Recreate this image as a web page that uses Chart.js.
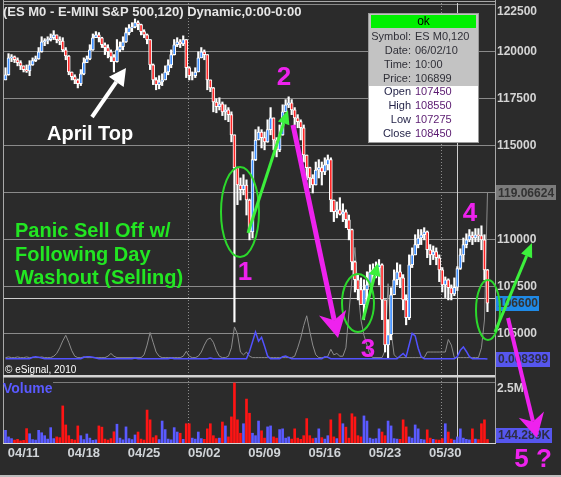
<!DOCTYPE html>
<html>
<head>
<meta charset="utf-8">
<script src="https://cdn.jsdelivr.net/npm/chart.js@4.4.0/dist/chart.umd.min.js"></script>
<style>
html, body { margin: 0; padding: 0; background: #2b2b2b; }
#wrap { position: relative; width: 561px; height: 477px; }
</style>
</head>
<body>
<div id="wrap"><canvas id="chart" width="561" height="477"></canvas></div>
<script>
// ES M0 120-minute bars, 04/09 - 06/02
var firstOpen = 118500;
var closes = [
  118775, 119675, 119725, 119575, 119425, 119250, 119050, 118975, 119300, 119525,
  119625, 120000, 120525, 120600, 120650, 120750, 120900, 120650, 120575, 120100,
  119775, 118925, 118675, 118500, 118300, 118825, 119425, 119625, 120100, 120750,
  120900, 120750, 120375, 120225, 120000, 119725, 119475, 120100, 120275, 120525,
  121025, 121275, 121325, 121550, 121450, 121075, 120900, 120650, 119300, 118500,
  118250, 118400, 118500, 118925, 119300, 119850, 120375, 120525, 120425, 120650,
  119150, 118725, 118725, 118925, 119675, 120000, 119850, 118500, 118075, 117325,
  117075, 117225, 116800, 116900, 116650, 115575, 113825, 112900, 112650, 112900,
  112100, 110400, 114250, 115300, 115725, 115425, 115200, 115850, 116475, 115300,
  114775, 115575, 116800, 117175, 117275, 116900, 116475, 116275, 115950, 114500,
  113825, 113275, 112900, 113700, 113825, 113600, 113975, 114250, 112100, 111475,
  111575, 111350, 111475, 111050, 110525, 108800, 107850, 107325, 106525, 107325,
  107575, 108275, 108375, 108500, 108650, 106775, 104375, 104925, 107050, 107850,
  108275, 107950, 106775, 105825, 108650, 109175, 109725, 110075, 110250, 110400,
  109450, 109175, 109350, 109025, 108375, 107575, 107850, 107425, 107100, 107450,
  108450, 109175, 109725, 109975, 110200, 110075, 110250, 110200, 109975, 108375,
  106600
];
var highs = [
  119150, 119900, 119850, 119775, 119675, 119525, 119250, 119300, 119525, 119675,
  119775, 120225, 120800, 120700, 120800, 120950, 121125, 120900, 120800, 120750,
  120225, 119800, 118925, 118775, 118550, 119050, 119675, 119775, 120375, 120950,
  121075, 121025, 120775, 120475, 120375, 120100, 119850, 120650, 120525, 120800,
  121275, 121450, 121550, 121750, 121650, 121475, 121175, 120950, 120650, 119350,
  118625, 118725, 118825, 119250, 119575, 120100, 120650, 120750, 120650, 120850,
  120650, 119200, 118925, 119150, 120000, 120225, 120100, 119850, 118500, 118100,
  117500, 117550, 117325, 117175, 117025, 116800, 115575, 113850, 113275, 113450,
  113175, 112150, 114675, 115850, 116000, 115850, 115725, 116375, 117025, 116475,
  115425, 116100, 117175, 117450, 117600, 117450, 117025, 116650, 116375, 116100,
  114500, 113850, 113450, 114125, 114250, 114125, 114350, 114500, 114350, 112100,
  112000, 112225, 111900, 111575, 111300, 110550, 108850, 108125, 107950, 107850,
  108275, 108650, 108700, 108800, 108925, 108700, 106775, 105725, 107425, 108375,
  108750, 108650, 108125, 107050, 109175, 109550, 110250, 110525, 110525, 110625,
  110450, 109725, 109650, 109550, 109175, 108500, 108000, 107900, 107575, 107950,
  108550, 109500, 110075, 110300, 110525, 110400, 110575, 110575, 110725, 110250,
  108400
];
var lows = [
  118500, 118750, 119475, 119425, 119250, 119050, 118925, 118900, 118725, 119275,
  119475, 119600, 119975, 120325, 120425, 120575, 120650, 120475, 120375, 120000,
  119575, 118775, 118500, 118300, 118075, 118200, 118775, 119425, 119575, 120075,
  120750, 120525, 120225, 119850, 119675, 119475, 118925, 119450, 120000, 120100,
  120500, 120900, 121075, 121275, 121175, 120900, 120750, 120425, 119050, 118250,
  117975, 118025, 118200, 118500, 118775, 119150, 119825, 120275, 120225, 120325,
  118625, 118500, 118500, 118625, 118925, 119675, 119575, 117975, 117875, 116800,
  116750, 116900, 116600, 116375, 116275, 115200, 105600, 111850, 112100, 112375,
  111300, 109975, 110075, 114200, 115300, 114875, 114775, 115175, 115575, 114775,
  114400, 114675, 115550, 116800, 117025, 116650, 116100, 115950, 115300, 114125,
  113175, 112750, 112475, 112900, 113275, 112900, 113450, 113700, 111475, 110950,
  111150, 111300, 110950, 110625, 109975, 108375, 107200, 106775, 106525, 105725,
  106525, 107575, 107750, 107950, 107575, 105725, 104000, 103700, 104650, 107050,
  107575, 107425, 106250, 105450, 105725, 108500, 109175, 109550, 109725, 109975,
  109025, 108650, 108925, 108650, 107750, 107200, 106900, 106775, 106775, 107000,
  107275, 108400, 108800, 109550, 109875, 109725, 109875, 109875, 109450, 107850,
  106150
];
// volume in thousands of contracts
var volK = [
  520, 250, 180, 120, 150, 90, 110, 590, 380, 140,
  120, 520, 420, 300, 160, 630, 180, 250, 220, 1520,
  740, 300, 150, 120, 700, 300, 140, 370, 200, 110,
  130, 700, 650, 160, 120, 180, 460, 770, 200, 130,
  660, 180, 140, 330, 450, 160, 120, 1350, 950, 220,
  300, 140, 900, 550, 160, 130, 630, 450, 400, 150,
  790, 790, 200, 160, 450, 180, 150, 580, 790, 300,
  180, 200, 860, 700, 250, 1070, 2460, 950, 400, 790,
  1800, 1220, 400, 300, 900, 500, 200, 660, 700, 250,
  200, 550, 580, 200, 250, 160, 580, 200, 150, 300,
  1000, 300, 180, 200, 580, 220, 160, 300, 950, 250,
  180, 1200, 790, 650, 200, 1200, 1070, 300, 250, 1110,
  900, 200, 160, 180, 580, 450, 300, 900, 700, 180,
  160, 150, 950, 660, 250, 200, 740, 580, 150, 130,
  540, 200, 150, 130, 120, 180, 790, 450, 160, 120,
  250, 580, 200, 150, 130, 580, 160, 140, 790, 950,
  144.289
];
// two study lines sharing the lower part of the price pane
var grayInd = [
  1, 1.5, 1, 1, 1.5, 1, 1, 1.5, 1, 1,
  1, 1, 1.5, 1, 1, 1, 2, 4, 8, 13,
  17, 12, 6, 2, 1, 1, 1.5, 1, 1, 1,
  1, 1, 1, 1, 2, 4, 2, 1, 1, 1,
  1, 1, 1, 1, 1, 1, 3, 10, 19, 12,
  5, 2, 1, 1, 1, 1, 1, 1, 1, 2,
  5.5, 2, 1, 1, 2, 5, 10, 14, 15, 12,
  6, 2, 1, 1, 2, 8, 23, 18, 5, 3,
  5, 2, 1, 1, 1, 1, 1, 1, 1, 1,
  1, 1, 1, 1, 1, 1, 2, 8, 15, 24,
  31, 20, 10, 3, 1, 1, 1, 2, 7, 3,
  4, 2, 2, 8, 33, 57, 80, 49, 28, 17,
  10, 3, 1, 1, 1, 1, 6, 54, 20, 3,
  1, 1, 1, 1, 1, 1, 1, 1, 1, 1,
  5, 5, 5, 5, 5, 5, 5, 14, 10, 1,
  1, 1, 1, 1, 1, 1, 1, 1, 8, 28,
  119.06624
];
var blueInd = [
  0.009, 0.009, 0.009, 0.009, 0.009, 0.009, 0.009, 0.009, 0.009, 0.011,
  0.012, 0.011, 0.010, 0.009, 0.009, 0.009, 0.009, 0.009, 0.009, 0.009,
  0.009, 0.009, 0.009, 0.009, 0.009, 0.009, 0.011, 0.012, 0.012, 0.011,
  0.010, 0.009, 0.009, 0.009, 0.009, 0.009, 0.009, 0.009, 0.009, 0.009,
  0.009, 0.009, 0.009, 0.010, 0.009, 0.009, 0.009, 0.009, 0.009, 0.009,
  0.009, 0.009, 0.009, 0.009, 0.009, 0.010, 0.009, 0.009, 0.009, 0.009,
  0.009, 0.009, 0.009, 0.009, 0.009, 0.009, 0.009, 0.009, 0.010, 0.009,
  0.009, 0.009, 0.009, 0.009, 0.009, 0.009, 0.009, 0.009, 0.009, 0.009,
  0.009, 0.020, 0.035, 0.050, 0.036, 0.042, 0.028, 0.013, 0.009, 0.009,
  0.009, 0.009, 0.012, 0.013, 0.011, 0.009, 0.009, 0.009, 0.009, 0.009,
  0.009, 0.009, 0.009, 0.009, 0.009, 0.009, 0.012, 0.011, 0.009, 0.009,
  0.009, 0.009, 0.009, 0.009, 0.009, 0.009, 0.009, 0.009, 0.009, 0.009,
  0.009, 0.009, 0.009, 0.009, 0.009, 0.009, 0.009, 0.009, 0.009, 0.009,
  0.009, 0.013, 0.017, 0.012, 0.030, 0.048, 0.044, 0.025, 0.012, 0.009,
  0.009, 0.009, 0.009, 0.009, 0.009, 0.009, 0.009, 0.009, 0.009, 0.009,
  0.012, 0.022, 0.027, 0.020, 0.012, 0.009, 0.009, 0.009, 0.009, 0.009,
  0.008399
];

var weekLabels = ['04/11', '04/18', '04/25', '05/02', '05/09', '05/16', '05/23', '05/30'];
var weekBars = [6, 26, 46, 66, 86, 106, 126, 146];
var monthBars = [61, 145];
var priceTicks = [105000, 107500, 110000, 112500, 115000, 117500, 120000, 122500];
var volGridK = 2500;

var titleText = '(ES M0 - E-MINI S&P 500,120) Dynamic,0:00-0:00';
var symbol = 'ES M0,120';
var cursorBar = 150;
var cursorDate = '06/02/10';
var cursorTime = '10:00';
var cursorPrice = 106899;

var FONT = '"Liberation Sans", Arial, sans-serif';
Chart.defaults.font.family = FONT;

var opens = closes.map(function(c, i) { return i === 0 ? firstOpen : closes[i - 1]; });
var slotLabels = [];
for (var s = 0; s < closes.length + 2; s++) slotLabels.push(String(s));

var wicks = closes.map(function(c, i) { return [lows[i], highs[i]]; });
var bodies = closes.map(function(c, i) { return [opens[i], c]; });
var bodyColors = closes.map(function(c, i) { return c >= opens[i] ? '#3a8dff' : '#ff2626'; });
var volColors = closes.map(function(c, i) { return c >= opens[i] ? '#5a5aff' : '#ff1414'; });

function drawText(c, str, x, y, font, color, align) {
    c.font = font;
    c.fillStyle = color;
    c.textAlign = align || 'left';
    c.textBaseline = 'middle';
    c.fillText(str, x, y);
}

function drawArrow(c, x1, y1, x2, y2, color, lw, headLen, headHalf, notch) {
    var ang = Math.atan2(y2 - y1, x2 - x1);
    var cs = Math.cos(ang), sn = Math.sin(ang);
    var bx = x2 - headLen * cs, by = y2 - headLen * sn;
    var nx = bx + (notch || 0) * headLen * cs, ny = by + (notch || 0) * headLen * sn;
    c.strokeStyle = color;
    c.lineWidth = lw;
    c.lineCap = 'butt';
    c.beginPath();
    c.moveTo(x1, y1);
    c.lineTo(nx, ny);
    c.stroke();
    c.fillStyle = color;
    c.beginPath();
    c.moveTo(x2, y2);
    c.lineTo(bx - headHalf * sn, by + headHalf * cs);
    c.lineTo(nx, ny);
    c.lineTo(bx + headHalf * sn, by - headHalf * cs);
    c.closePath();
    c.fill();
}

function drawEllipse(c, x, y, rx, ry, color) {
    c.strokeStyle = color;
    c.lineWidth = 2;
    c.beginPath();
    c.ellipse(x, y, rx, ry, 0, 0, Math.PI * 2);
    c.stroke();
}

function valueBox(c, str, x, y, w, bg, fg) {
    c.fillStyle = bg;
    c.fillRect(x, Math.round(y - 7.5), w, 15);
    drawText(c, str, x + 2, y + 0.5, 'bold 12px ' + FONT, fg);
}

var overlay = {
    id: 'overlay',
    beforeDraw: function(chart) {
        var c = chart.ctx;
        c.save();
        c.fillStyle = '#2b2b2b';
        c.fillRect(0, 0, chart.width, chart.height);
        c.restore();
    },
    beforeDatasetsDraw: function(chart) {
        var c = chart.ctx, a = chart.chartArea;
        var xs = chart.scales.x, ys = chart.scales.y, vs = chart.scales.yv;
        c.save();
        c.lineWidth = 1;
        // month dividers
        c.strokeStyle = '#8c8c8c';
        c.setLineDash([1, 2]);
        monthBars.forEach(function(b) {
            var px = Math.round((xs.getPixelForValue(b - 1) + xs.getPixelForValue(b)) / 2) + 0.5;
            c.beginPath();
            c.moveTo(px, a.top);
            c.lineTo(px, a.bottom);
            c.stroke();
        });
        c.setLineDash([]);
        // volume grid line
        var gy = Math.round(vs.getPixelForValue(volGridK)) + 0.5;
        c.strokeStyle = '#7c7c7c';
        c.beginPath();
        c.moveTo(53, gy);
        c.lineTo(a.right, gy);
        c.stroke();
        // cursor crosshair
        var cx = Math.round(xs.getPixelForValue(cursorBar)) + 0.5;
        var cy = Math.round(ys.getPixelForValue(cursorPrice)) + 0.5;
        c.strokeStyle = '#cfcfcf';
        c.beginPath();
        c.moveTo(cx, a.top);
        c.lineTo(cx, a.bottom);
        c.moveTo(a.left, cy);
        c.lineTo(a.right, cy);
        c.stroke();
        c.restore();
    },
    afterDraw: function(chart) {
        var c = chart.ctx, a = chart.chartArea;
        var ys = chart.scales.y, vs = chart.scales.yv, gs = chart.scales.yg, bs = chart.scales.yb;
        var last = closes.length - 1;
        c.save();

        // pane frame
        c.fillStyle = '#a8a8a8';
        c.fillRect(3, 0, 1, a.bottom);
        c.fillRect(a.right, 0, 1, a.bottom);
        c.fillRect(3, 1, a.right - 3, 1);
        c.fillStyle = '#d4d4d4';
        c.fillRect(3, 375, a.right - 3, 2.5);
        c.fillRect(3, a.bottom, a.right - 2, 1);
        c.fillStyle = '#bdbdbd';
        c.fillRect(0, 475, chart.width, 2);

        // pane texts
        drawText(c, titleText, 3, 12, 'bold 13px ' + FONT, '#e6e6e6');
        drawText(c, '\u00a9 eSignal, 2010', 5, 370, '10px ' + FONT, '#ffffff');
        drawText(c, 'Volume', 3, 389, 'bold 14px ' + FONT, '#5a5aff');
        drawText(c, '2.5M', 497, 389, 'bold 12px ' + FONT, '#d4d4d4');

        // last-value boxes on the right axis
        valueBox(c, grayInd[last].toFixed(5), 496, gs.getPixelForValue(grayInd[last]), 60, '#7b7b7b', '#333333');
        valueBox(c, String(closes[last]), 496, ys.getPixelForValue(closes[last]), 43, '#1f8ae6', '#333333');
        valueBox(c, blueInd[last].toFixed(6), 496, bs.getPixelForValue(blueInd[last]), 54, '#5656ee', '#2e2e44');
        var vy = Math.min(vs.getPixelForValue(volK[last]), a.bottom - 8);
        valueBox(c, volK[last].toFixed(3) + 'K', 496, vy, 56, '#5656ee', '#2e2e44');

        // cursor data window
        var bx = 368, by = 13, bw = 111, bh = 130;
        c.fillStyle = '#9a9a9a';
        c.fillRect(bx, by, bw, bh);
        c.fillStyle = '#ffffff';
        c.fillRect(bx + 1, by + 1, bw - 2, bh - 2);
        c.fillStyle = '#c3c3c3';
        c.fillRect(bx + 1, by + 1, bw - 2, 72);
        c.fillStyle = '#00f000';
        c.fillRect(bx + 3, by + 2, bw - 6, 13);
        drawText(c, 'ok', bx + bw / 2, 22, '12px ' + FONT, '#000000', 'center');
        var rows = [
            ['Symbol:', symbol], ['Date:', cursorDate], ['Time:', cursorTime], ['Price:', String(cursorPrice)]
        ];
        rows.forEach(function(r, k) {
            drawText(c, r[0], 411, 36.5 + k * 14, '11px ' + FONT, '#303038', 'right');
            drawText(c, r[1], 415, 36.5 + k * 14, '11px ' + FONT, '#303038');
        });
        var ohlc = [
            ['Open', opens[cursorBar]], ['High', highs[cursorBar]], ['Low', lows[cursorBar]], ['Close', closes[cursorBar]]
        ];
        ohlc.forEach(function(r, k) {
            drawText(c, r[0], 411, 92 + k * 14, '11px ' + FONT, '#26264a', 'right');
            drawText(c, String(r[1]), 415, 92 + k * 14, '11px ' + FONT, '#5a1a70');
        });

        // chart notes
        var green = '#22e622', lime = '#3cf03c', pink = '#ee22ee';
        drawArrow(c, 92, 117, 126, 68, '#ffffff', 4, 17, 9, 0);
        drawText(c, 'April Top', 47, 134, 'bold 20px ' + FONT, '#ffffff');

        drawText(c, 'Panic Sell Off w/', 15, 231, 'bold 20px ' + FONT, green);
        drawText(c, 'Following Day', 15, 255, 'bold 20px ' + FONT, green);
        drawText(c, 'Washout (Selling)', 15, 278, 'bold 20px ' + FONT, green);

        drawEllipse(c, 240, 212, 19, 45, '#2cd82c');
        drawArrow(c, 248, 233, 288, 110, lime, 3, 14, 6, 0);
        drawEllipse(c, 358, 303, 16, 29, '#2cd82c');
        drawArrow(c, 363, 320, 378, 263, lime, 3, 13, 6, 0);
        drawEllipse(c, 488, 310, 12, 30, '#2cd82c');
        drawArrow(c, 495, 332, 532, 243, lime, 3, 14, 6, 0);

        drawArrow(c, 293, 125, 338, 338, pink, 5, 26, 14, 0.3);
        drawArrow(c, 508, 318, 537, 438, pink, 4, 24, 13, 0.3);

        drawText(c, '1', 245, 273, 'bold 26px ' + FONT, pink, 'center');
        drawText(c, '2', 284, 78, 'bold 26px ' + FONT, pink, 'center');
        drawText(c, '3', 368, 350, 'bold 26px ' + FONT, pink, 'center');
        drawText(c, '4', 470, 214, 'bold 26px ' + FONT, pink, 'center');
        drawText(c, '5 ?', 533, 460, 'bold 26px ' + FONT, pink, 'center');
        c.restore();
    }
};

var chart = new Chart(document.getElementById('chart'), {
    type: 'bar',
    data: {
        labels: slotLabels,
        datasets: [
            { type: 'bar', label: 'Body', data: bodies, yAxisID: 'y', backgroundColor: bodyColors,
              borderColor: '#ffffff', borderWidth: 1, borderSkipped: false, barThickness: 3, grouped: false, order: 0 },
            { type: 'bar', label: 'Range', data: wicks, yAxisID: 'y', backgroundColor: '#ffffff',
              barThickness: 1.5, grouped: false, order: 1 },
            { type: 'bar', label: 'Volume', data: volK, yAxisID: 'yv', backgroundColor: volColors,
              barThickness: 2, grouped: false, order: 2 },
            { type: 'line', label: 'Study 2', data: blueInd, yAxisID: 'yb', borderColor: '#5252ff',
              borderWidth: 1.5, pointRadius: 0, tension: 0, order: 3 },
            { type: 'line', label: 'Study 1', data: grayInd, yAxisID: 'yg', borderColor: '#8c8c8c',
              borderWidth: 1, pointRadius: 0, tension: 0, order: 4 }
        ]
    },
    options: {
        responsive: false,
        animation: false,
        events: [],
        layout: { padding: { left: 4, top: 3, right: 0, bottom: 0 } },
        plugins: { legend: { display: false }, tooltip: { enabled: false } },
        scales: {
            x: {
                type: 'category',
                offset: true,
                grid: { display: false, drawTicks: false },
                border: { display: false },
                ticks: {
                    autoSkip: false, maxRotation: 0, minRotation: 0, padding: 3,
                    color: '#d0d4d8', font: { size: 13, weight: 'bold' },
                    callback: function(v) {
                        var k = weekBars.indexOf(v);
                        return k < 0 ? '' : weekLabels[k];
                    }
                },
                afterBuildTicks: function(scale) {
                    scale.ticks = weekBars.map(function(v) { return { value: v }; });
                },
                afterFit: function(scale) {
                    scale.height = 34;
                    scale.paddingLeft = 0;
                    scale.paddingRight = 0;
                }
            },
            y: {
                position: 'right',
                min: 99150,
                max: 122600,
                grid: { color: '#8a8a8a', drawTicks: false },
                border: { display: false },
                ticks: {
                    padding: 2, color: '#d4d4d4', font: { size: 12, weight: 'bold' },
                    callback: function(v) { return v === 122500 ? ['', String(v)] : String(v); }
                },
                afterBuildTicks: function(scale) {
                    scale.ticks = priceTicks.map(function(v) { return { value: v }; });
                },
                afterFit: function(scale) {
                    scale.width = 66;
                    scale.paddingTop = 0;
                    scale.paddingBottom = 0;
                }
            },
            yv: { display: false, position: 'right', min: 0, max: 18030 },
            yg: { display: false, position: 'right', min: -60.2, max: 255.2 },
            yb: { display: false, position: 'right', min: -0.121, max: 0.557 }
        }
    },
    plugins: [overlay]
});
</script>
</body>
</html>
